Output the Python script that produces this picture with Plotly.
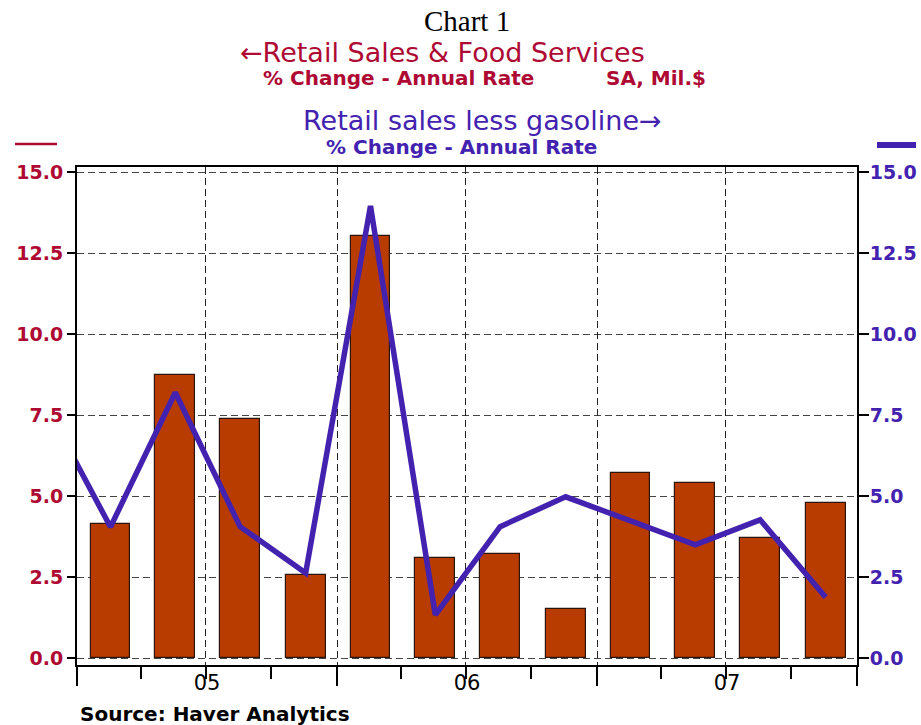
import plotly.graph_objects as go

# quarterly data, plotted near mid-quarter
bar_dates = ['2005-02-17', '2005-05-19', '2005-08-18', '2005-11-18',
             '2006-02-17', '2006-05-19', '2006-08-18', '2006-11-18',
             '2007-02-17', '2007-05-19', '2007-08-18', '2007-11-18']
retail_food = [4.15, 8.75, 7.38, 2.58, 13.02, 3.1, 3.22, 1.52, 5.72, 5.4, 3.72, 4.8]

line_dates = ['2004-11-18'] + bar_dates
retail_ex_gas = [7.8, 4.05, 8.2, 4.06, 2.63, 13.96, 1.34, 4.06, 4.98, 4.25, 3.5, 4.27, 1.88]

y_ticks = [0, 2.5, 5, 7.5, 10, 12.5, 15]

CRIMSON = '#AE0A33'
PURPLE = '#4322B0'
BAR = '#B83C00'
FONT = 'DejaVu Sans'

W, H = 921, 725
L, R, T, B = 77, 64, 167, 60


def px_x(x):
    return (x - L) / (W - L - R)


def px_y(y):
    return (H - B - y) / (H - T - B)


fig = go.Figure()
fig.add_trace(go.Bar(
    x=bar_dates, y=retail_food, width=56 * 86400000,
    marker=dict(color=BAR, line=dict(color='#2a1508', width=1.2)),
    xaxis='x', yaxis='y', name='Retail Sales & Food Services'))
fig.add_trace(go.Scatter(
    x=line_dates, y=retail_ex_gas, mode='lines',
    line=dict(color=PURPLE, width=5.5),
    xaxis='x2', yaxis='y2', name='Retail sales less gasoline'))

xrange = ['2005-01-01', '2008-01-01']
yrange = [-0.21, 15.16]

fig.update_layout(
    width=W, height=H,
    margin=dict(l=L, r=R, t=T, b=B),
    plot_bgcolor='white', paper_bgcolor='white',
    showlegend=False,
    bargap=0,
    xaxis=dict(
        range=xrange, type='date', dtick='M12', tick0='2005-01-01', automargin=False,
        ticks='outside', ticklen=19, tickwidth=2, tickcolor='black',
        ticklabelmode='period', tickformat='%y', ticklabelstandoff=-21,
        tickfont=dict(family=FONT, size=21, color='black'),
        minor=dict(dtick='M3', ticks='outside', ticklen=12, tickwidth=1.5,
                   tickcolor='black', showgrid=False),
        showgrid=False, zeroline=False,
        showline=True, linecolor='black', linewidth=2, mirror=True),
    xaxis2=dict(
        range=xrange, type='date', overlaying='x', dtick='M6', tick0='2005-01-01',
        automargin=False, showticklabels=False, ticks='', showline=False, zeroline=False,
        showgrid=True, gridcolor='#222', gridwidth=1, griddash='7px,4px'),
    yaxis=dict(
        range=yrange, tickvals=y_ticks, tickformat='.1f', automargin=False,
        ticks='outside', ticklen=8, tickwidth=2, tickcolor='black',
        tickfont=dict(family=FONT, size=19, color=CRIMSON, weight='bold'),
        showgrid=True, gridcolor='#444', gridwidth=1, griddash='7px,4px',
        zeroline=False, showline=True, linecolor='black', linewidth=2, mirror=True),
    yaxis2=dict(
        range=yrange, tickvals=y_ticks, tickformat='.1f', overlaying='y', side='right',
        automargin=False, ticklabelstandoff=-3,
        ticks='outside', ticklen=10, tickwidth=2, tickcolor='black',
        tickfont=dict(family=FONT, size=19, color=PURPLE, weight='bold'),
        showgrid=False, zeroline=False, showline=True, linecolor='black', linewidth=2),
)

annotations = [
    dict(text='Chart 1', x=px_x(467), y=px_y(21), xanchor='center',
         font=dict(family='Liberation Serif', size=29, color='black')),
    dict(text='\u2190Retail Sales & Food Services', x=px_x(238), y=px_y(52), xanchor='left',
         font=dict(family=FONT, size=27, color=CRIMSON)),
    dict(text='% Change - Annual Rate', x=px_x(261), y=px_y(78), xanchor='left',
         font=dict(family=FONT, size=20, color=CRIMSON, weight='bold')),
    dict(text='SA, Mil.$', x=px_x(604), y=px_y(78), xanchor='left',
         font=dict(family=FONT, size=20, color=CRIMSON, weight='bold')),
    dict(text='Retail sales less gasoline\u2192', x=px_x(301), y=px_y(121), xanchor='left',
         font=dict(family=FONT, size=27, color=PURPLE)),
    dict(text='% Change - Annual Rate', x=px_x(324), y=px_y(147), xanchor='left',
         font=dict(family=FONT, size=20, color=PURPLE, weight='bold')),
    dict(text='Source: Haver Analytics', x=px_x(78), y=px_y(714), xanchor='left',
         font=dict(family=FONT, size=20, color='black', weight='bold')),
]
for a in annotations:
    fig.add_annotation(xref='paper', yref='paper', yanchor='middle', showarrow=False, **a)

# series keys beside the axes
fig.add_shape(type='line', xref='paper', yref='paper',
              x0=px_x(15), x1=px_x(57), y0=px_y(144), y1=px_y(144),
              line=dict(color=CRIMSON, width=2.5))
fig.add_shape(type='line', xref='paper', yref='paper',
              x0=px_x(877), x1=px_x(916), y0=px_y(145), y1=px_y(145),
              line=dict(color=PURPLE, width=6))

# the page's default body margin would push the 921x725 figure off the window
fig.write_html('out.html', config={'displayModeBar': False},
               post_script="document.body.style.margin='0';")
